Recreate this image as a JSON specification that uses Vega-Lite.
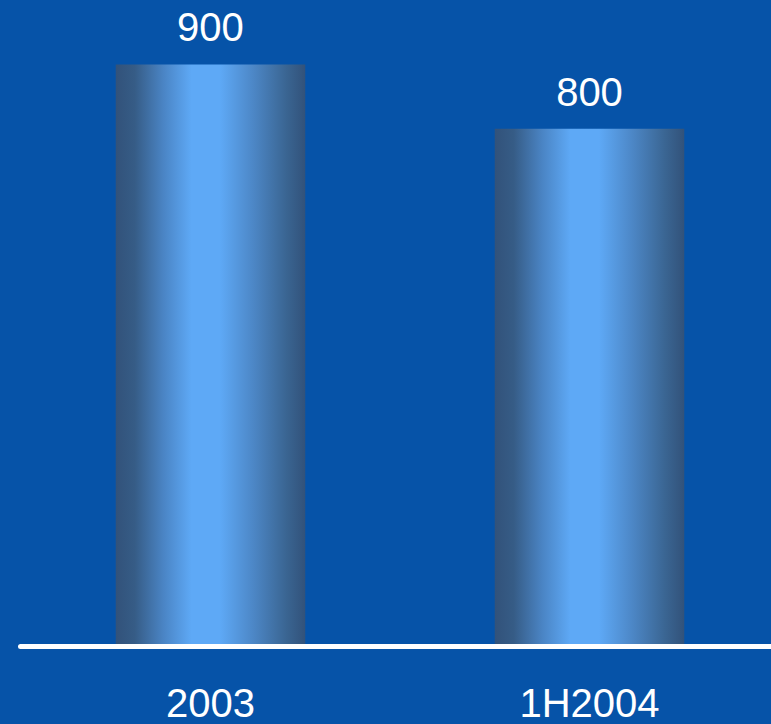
{
  "$schema": "https://vega.github.io/schema/vega-lite/v6.json",
  "width": 751,
  "height": 644,
  "autosize": {"type": "none"},
  "padding": {"left": 20, "top": 0, "right": 0, "bottom": 80},
  "background": "#0653a8",
  "config": {"view": {"stroke": null}},
  "data": {"values": [
    {"period": "2003", "value": 900},
    {"period": "1H2004", "value": 800}
  ]},
  "encoding": {
    "x": {
      "field": "period", "type": "nominal", "sort": null,
      "scale": {"range": [0, 760], "paddingInner": 0.5, "paddingOuter": 0.2526},
      "axis": {
        "title": null, "labelAngle": 0, "ticks": false, "tickSize": 0,
        "domainColor": "white", "domainWidth": 5, "domainCap": "round", "offset": 2,
        "labelPadding": 70, "labelBaseline": "alphabetic",
        "labelFont": "Liberation Sans", "labelFontSize": 40, "labelColor": "white"
      }
    },
    "y": {"field": "value", "type": "quantitative", "scale": {"domain": [0, 1000]}, "axis": null}
  },
  "layer": [
    {
      "mark": {
        "type": "bar",
        "color": {
          "gradient": "linear", "x1": 0, "x2": 1, "y1": 0, "y2": 0,
          "stops": [
            {"offset": 0, "color": "#32527a"},
            {"offset": 0.1, "color": "#365c86"},
            {"offset": 0.25, "color": "#4a84c4"},
            {"offset": 0.4, "color": "#5ea9f6"},
            {"offset": 0.55, "color": "#5ea9f6"},
            {"offset": 0.72, "color": "#4d88c8"},
            {"offset": 0.9, "color": "#3a6592"},
            {"offset": 1, "color": "#32527a"}
          ]
        }
      }
    },
    {
      "mark": {"type": "text", "dy": -23, "baseline": "alphabetic", "font": "Liberation Sans", "fontSize": 40, "color": "white"},
      "encoding": {"text": {"field": "value", "type": "quantitative"}}
    }
  ]
}
